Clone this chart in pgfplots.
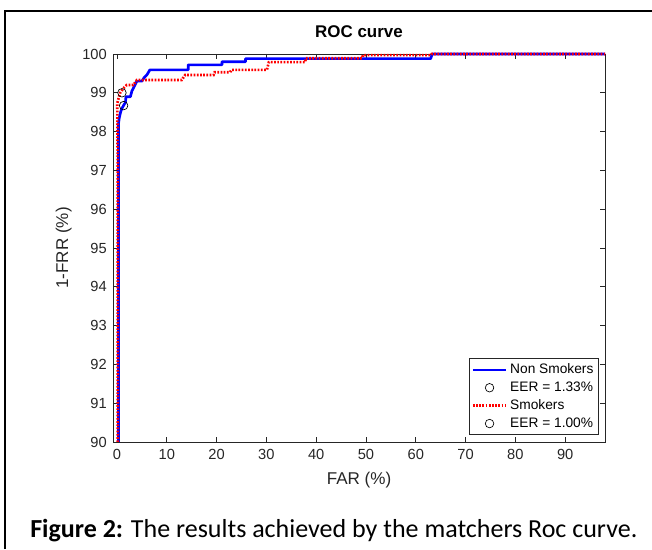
\documentclass[border=0pt]{standalone}
\usepackage{fontspec}
\setmainfont{Liberation Sans}
\newfontfamily\carlito{Carlito}
\usepackage{pgfplots}
\pgfplotsset{compat=1.18}

\definecolor{mblue}{RGB}{0,0,255}
\definecolor{mred}{RGB}{255,0,0}
\definecolor{axgray}{RGB}{38,38,38}

\begin{document}
\begin{tikzpicture}[x=0.75pt,y=0.75pt]
\useasboundingbox (0,0) rectangle (652,549);
% frame of the figure box (runs off to the right and bottom)
\draw[line width=1.6pt] (5,0) -- (5,538) -- (652,538);
\coordinate (axsw) at (113,107);

\begin{axis}[
  at={(axsw)}, anchor=south west,
  scale only axis, width=369pt, height=291pt,
  xmin=-0.8, xmax=98, ymin=90, ymax=100,
  xtick={0,10,...,90}, ytick={90,91,...,100},
  tick align=inside, major tick length=3.5pt,
  axis line style={axgray, line width=0.6pt},
  every tick/.style={axgray, line width=0.6pt},
  tick label style={font=\fontsize{11}{13}\selectfont, text=axgray},
  /pgf/number format/assume math mode=true,
  xticklabel style={anchor=center, yshift=-9pt},
  yticklabel style={anchor=east, inner sep=0pt, xshift=-4.5pt},
  title={\bfseries ROC curve},
  title style={at={(axis description cs:0.5,1)}, anchor=center, yshift=10.5pt,
               font=\fontsize{12.7}{14}\selectfont, text=black},
  xlabel={FAR (\%)},
  ylabel={1-FRR (\%)},
  label style={font=\fontsize{12.8}{14}\selectfont, text=axgray},
  xlabel style={at={(axis description cs:0.5,0)}, anchor=center, yshift=-28.5pt},
  ylabel style={at={(axis description cs:-0.1,0.5)}, anchor=center},
  clip=false,
  legend style={at={(rel axis cs:0.988,0.018)}, anchor=south east,
                font=\fontsize{10.3}{12}\selectfont, draw=axgray, line width=0.5pt,
                fill=white, row sep=0.6pt, inner sep=2pt},
  legend cell align=left,
  legend image code/.code={\draw[mark repeat=2,mark phase=2,#1]
      plot coordinates {(0cm,0cm) (0.44cm,0cm) (0.88cm,0cm)};},
]
% Non Smokers
\addplot[mblue, line width=2pt, line join=round] coordinates {
  (0.3,90) (0.3,97.0) (0.3,98.2) (0.45,98.35) (0.74,98.51) (1.0,98.6)
  (1.4,98.69) (1.7,98.75) (1.8,98.9) (2.7,98.9) (3.0,99.05) (3.3,99.12)
  (4.0,99.3) (5.0,99.3) (5.5,99.4) (6.0,99.46) (6.6,99.59) (14.3,99.59)
  (14.3,99.72) (21.1,99.72) (21.1,99.80) (25.8,99.80) (25.8,99.88)
  (63,99.88) (63.3,100) (98,100)};
\addlegendentry{Non Smokers}
\addplot[only marks, mark=o, mark size=3.2pt, black, mark options={line width=0.5pt}]
  coordinates {(1.33,98.67)};
\addlegendentry{EER = 1.33\%}
% Smokers
\addplot[mred, line width=2pt, dash pattern=on 1.3pt off 1.1pt] coordinates {
  (0.15,90) (0.15,97.0) (0.1,98.0) (0.06,98.73) (0.3,98.85) (0.6,98.99)
  (1.2,99.1) (1.95,99.2) (3.3,99.2) (4.0,99.33) (13.0,99.33) (13.7,99.46)
  (19.4,99.46) (19.6,99.53) (22.7,99.53) (23.0,99.59) (30.1,99.59)
  (30.5,99.79) (37.8,99.79) (37.9,99.89) (49.2,99.89) (49.4,99.97)
  (63,99.97) (63.2,100) (98,100)};
\addlegendentry{Smokers}
\addplot[only marks, mark=o, mark size=3.2pt, black, mark options={line width=0.5pt}]
  coordinates {(1.0,99.0)};
\addlegendentry{EER = 1.00\%}
\end{axis}

\node[anchor=base west, font=\fontsize{19.5}{22}\carlito, inner sep=0pt]
  at (30,12) {\textbf{Figure 2:} The results achieved by the matchers Roc curve.};
\end{tikzpicture}
\end{document}
